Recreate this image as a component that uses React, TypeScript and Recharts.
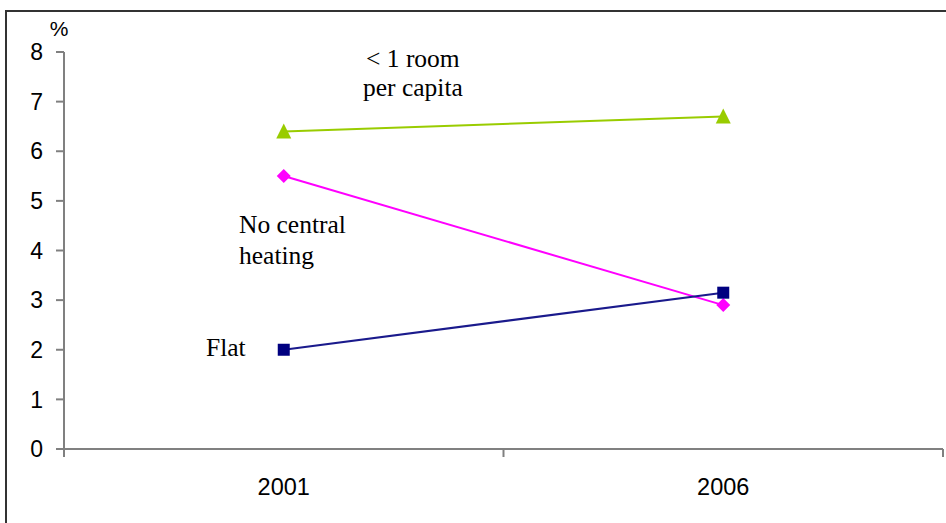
import { LineChart, Line, XAxis, YAxis } from 'recharts';

const years = ['2001', '2006'];
const roomPerCapita = [6.4, 6.7];
const noCentralHeating = [5.5, 2.9];
const flat = [2.0, 3.15];
const yTicks = [0, 1, 2, 3, 4, 5, 6, 7, 8];

const data = years.map((year, i) => ({
  year,
  room: roomPerCapita[i],
  heating: noCentralHeating[i],
  flat: flat[i],
}));

const AXIS = '#808080';
const SANS = '"Liberation Sans", Arial, sans-serif';
const SERIF = '"Liberation Serif", "Times New Roman", serif';
const X_TICK_MARGIN = 31;

const Triangle = (props: any) => {
  const { cx, cy } = props;
  if (cx == null || cy == null) return null;
  return <polygon points={`${cx},${cy - 8} ${cx - 7.5},${cy + 7} ${cx + 7.5},${cy + 7}`} fill="#99CC00" />;
};

const Diamond = (props: any) => {
  const { cx, cy } = props;
  if (cx == null || cy == null) return null;
  return <polygon points={`${cx},${cy - 7} ${cx + 7},${cy} ${cx},${cy + 7} ${cx - 7},${cy}`} fill="#FF00FF" />;
};

const Square = (props: any) => {
  const { cx, cy } = props;
  if (cx == null || cy == null) return null;
  return <rect x={cx - 6} y={cy - 6} width={12} height={12} fill="#000080" />;
};

// category labels in the middle, tick marks on the category boundaries
const XTick = (props: any) => {
  const { x, y, payload, index, width, visibleTicksCount } = props;
  const half = width / visibleTicksCount / 2;
  const axisY = y - X_TICK_MARGIN;
  return (
    <g>
      {index === 0 && <line x1={x - half} x2={x - half} y1={axisY} y2={axisY + 8} stroke={AXIS} strokeWidth={2} />}
      <line x1={x + half} x2={x + half} y1={axisY} y2={axisY + 8} stroke={AXIS} strokeWidth={2} />
      <text x={x} y={axisY + 46} textAnchor="middle" fontSize={23.5} fontFamily={SANS} fill="#000">
        {payload.value}
      </text>
    </g>
  );
};

export default function App() {
  return (
    <div style={{ position: 'absolute', left: 0, top: 0, width: 946, height: 523, overflow: 'hidden', background: '#fff' }}>
      <div
        style={{
          position: 'absolute',
          left: 5,
          top: 10,
          width: 2000,
          height: 2000,
          border: '2px solid #333',
        }}
      />
      <LineChart width={946} height={523} data={data} margin={{ top: 52, right: 3, bottom: 14, left: 0 }}>
        <XAxis
          dataKey="year"
          scale="band"
          height={60}
          stroke={AXIS}
          strokeWidth={2}
          tickLine={false}
          tickSize={0}
          tickMargin={X_TICK_MARGIN}
          tick={<XTick />}
        />
        <YAxis
          width={64}
          domain={[0, 8]}
          ticks={yTicks}
          interval={0}
          stroke={AXIS}
          strokeWidth={2}
          tickSize={8}
          tickMargin={13}
          tick={{ fill: '#000', fontSize: 23, fontFamily: SANS }}
        />
        <Line dataKey="room" stroke="#99CC00" strokeWidth={2} dot={<Triangle />} isAnimationActive={false} />
        <Line dataKey="heating" stroke="#FF00FF" strokeWidth={2} dot={<Diamond />} isAnimationActive={false} />
        <Line dataKey="flat" stroke="#1a1a8c" strokeWidth={2} dot={<Square />} isAnimationActive={false} />
      </LineChart>
      <svg width={946} height={523} style={{ position: 'absolute', left: 0, top: 0, pointerEvents: 'none' }}>
        <text x={59} y={36} textAnchor="middle" fontSize={21} fontFamily={SANS}>%</text>
        <g fontSize={25.5} fontFamily={SERIF} fill="#000">
          <text x={366} y={67}>&lt; 1 room</text>
          <text x={363} y={96}>per capita</text>
          <text x={239} y={233}>No central</text>
          <text x={239} y={264}>heating</text>
          <text x={206} y={356}>Flat</text>
        </g>
      </svg>
    </div>
  );
}
